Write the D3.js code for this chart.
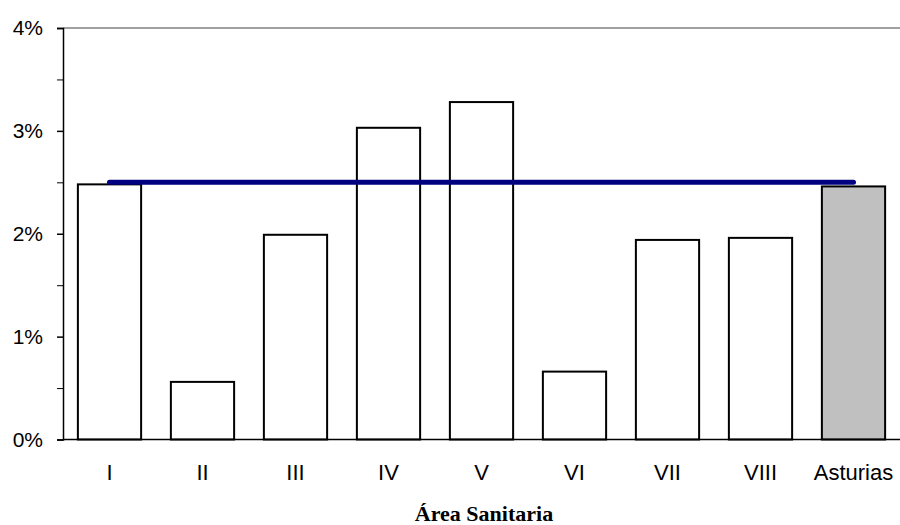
<!DOCTYPE html>
<html><head><meta charset="utf-8">
<script src="https://cdn.jsdelivr.net/npm/d3@7"></script>
<style>body{margin:0;background:#fff}</style>
</head><body>
<svg id="c" width="900" height="525"></svg>
<script>
const categories = ["I","II","III","IV","V","VI","VII","VIII","Asturias"];
const values = [2.48, 0.56, 1.99, 3.03, 3.28, 0.66, 1.94, 1.96, 2.46];
const referenceValue = 2.50;
const yTicks = [0,1,2,3,4];
const yMinorTicks = [0.5,1.5,2.5,3.5];
const xTitle = "Área Sanitaria";

const svg = d3.select("#c");
const m = {left:63, right:0, top:28, bottom:85.5};
const W = 900, H = 525;
const x = d3.scaleBand().domain(categories).range([m.left, W - m.right]).paddingInner(0.32).paddingOuter(0.16);
const y = d3.scaleLinear().domain([0,4]).range([H - m.bottom, m.top]);

// top border
svg.append("line").attr("x1", m.left).attr("x2", W).attr("y1", y(4)).attr("y2", y(4))
  .attr("stroke","#808080").attr("stroke-width",1.5);

// bars
svg.selectAll("rect.bar").data(values).join("rect")
  .attr("x",(d,i)=>x(categories[i]))
  .attr("y",d=>y(d))
  .attr("width",x.bandwidth())
  .attr("height",d=>y(0)-y(d))
  .attr("fill",(d,i)=>categories[i]==="Asturias"?"#c0c0c0":"#ffffff")
  .attr("stroke","#000").attr("stroke-width",2);

// reference line
svg.append("line")
  .attr("x1", x(categories[0]) + x.bandwidth()/2)
  .attr("x2", x(categories[categories.length-1]) + x.bandwidth()/2)
  .attr("y1", y(referenceValue)).attr("y2", y(referenceValue))
  .attr("stroke","#000080").attr("stroke-width",5).attr("stroke-linecap","round");

// y axis
const yAxis = d3.axisLeft(y).tickValues(yTicks).tickFormat(d=>d+"%").tickSize(6).tickPadding(14);
const ga = svg.append("g").attr("transform",`translate(${m.left},0)`).call(yAxis);
ga.select(".domain").attr("stroke","#000").attr("stroke-width",1.5);
ga.selectAll(".tick line").attr("stroke","#000").attr("stroke-width",1.5);
ga.selectAll("text").attr("font-family","Liberation Sans, Arial, sans-serif").attr("font-size",21).attr("fill","#000");
const gm = svg.append("g").attr("transform",`translate(${m.left},0)`)
  .call(d3.axisLeft(y).tickValues(yMinorTicks).tickFormat("").tickSize(6));
gm.select(".domain").remove();
gm.selectAll(".tick line").attr("stroke","#000").attr("stroke-width",1);

// x axis
const xAxis = d3.axisBottom(x).tickSize(0).tickPadding(25);
const gx = svg.append("g").attr("transform",`translate(0,${y(0)})`).call(xAxis);
gx.select(".domain").attr("stroke","#000").attr("stroke-width",1.5).attr("d",`M${m.left},0H${W}`);
gx.selectAll("text").attr("font-family","Liberation Sans, Arial, sans-serif").attr("font-size",22).attr("fill","#000");

svg.append("text").attr("x",484).attr("y",521).attr("text-anchor","middle")
  .attr("font-family","Liberation Serif, Times New Roman, serif").attr("font-weight","bold").attr("font-size",22)
  .text(xTitle);
</script>
</body></html>
